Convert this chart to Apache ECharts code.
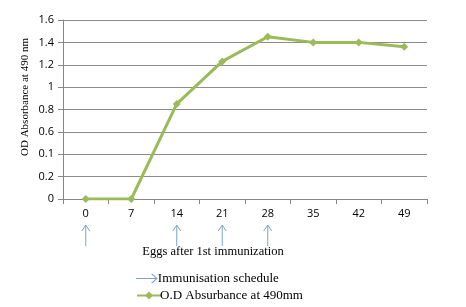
<!DOCTYPE html>
<html>
<head>
<meta charset="utf-8">
<script src="https://cdn.jsdelivr.net/npm/echarts@6/dist/echarts.min.js"></script>
<style>
  html, body { margin: 0; padding: 0; background: #fff; }
  #chart { width: 466px; height: 307px; }
</style>
</head>
<body>
<div id="chart"></div>
<script>
const days = ['0', '7', '14', '21', '28', '35', '42', '49'];
const odValues = [0, 0, 0.85, 1.23, 1.45, 1.40, 1.40, 1.36];
const yTickLabels = ['0', '0.2', '0.1', '0.6', '0.8', '1', '1.2', '1.4', '1.6'];
const arrowDays = ['0', '14', '21', '28'];

const chart = echarts.init(document.getElementById('chart'));
const serif = '"Liberation Serif", "DejaVu Serif", serif';
const arrowColor = '#7ea3cf';
const green = '#9bbb59';

// shared legend look, one legend block per row
const legendBase = {
  orient: 'horizontal',
  left: 131,
  itemWidth: 24,
  itemHeight: 10,
  textStyle: { fontFamily: serif, fontSize: 13, color: '#000', padding: [0, 0, 0, -6] }
};

const option = {
  animation: false,
  grid: { left: 63, right: 39, top: 20, bottom: 108 },
  legend: [
    Object.assign({}, legendBase, {
      top: 267,
      data: [{ name: 'Immunisation schedule', icon: 'path://M0,4.6 L18,4.6 L14,1 L14.8,0.4 L20,5 L14.8,9.6 L14,9 L18,5.4 L0,5.4 Z', itemStyle: { color: arrowColor } }]
    }),
    Object.assign({}, legendBase, {
      top: 284,
      data: [{ name: 'O.D Absurbance at 490mm' }]
    })
  ],
  xAxis: {
    type: 'category',
    data: days,
    boundaryGap: true,
    axisLine: { lineStyle: { color: '#868686' } },
    axisTick: { show: true, length: 5, lineStyle: { color: '#868686' } },
    axisLabel: { margin: 9, fontSize: 11, color: '#000', fontFamily: '"Open Sans", sans-serif' }
  },
  yAxis: {
    type: 'value',
    min: 0,
    max: 1.6,
    interval: 0.2,
    axisLine: { show: true, lineStyle: { color: '#868686' } },
    axisTick: { show: true, length: 5, lineStyle: { color: '#868686' } },
    splitLine: { lineStyle: { color: '#8c8c8c', width: 1 } },
    axisLabel: {
      margin: 9,
      fontSize: 11,
      color: '#000',
      fontFamily: '"Open Sans", sans-serif',
      formatter: (v) => yTickLabels[Math.round(v / 0.2)]
    }
  },
  graphic: [
    {
      type: 'text',
      x: 25,
      y: 97,
      rotation: Math.PI / 2,
      style: {
        text: 'OD Absorbance at 490 nm',
        font: '11px ' + serif,
        fill: '#000',
        align: 'center',
        verticalAlign: 'middle'
      }
    },
    {
      type: 'text',
      x: 213,
      y: 252,
      style: {
        text: 'Eggs after 1st immunization',
        font: '12.5px ' + serif,
        fill: '#000',
        align: 'center',
        verticalAlign: 'middle'
      }
    }
  ],
  series: [
    {
      name: 'Immunisation schedule',
      type: 'custom',
      clip: false,
      itemStyle: { color: arrowColor },
      data: arrowDays.map(d => [d, 0]),
      encode: { x: 0, y: 1 },
      renderItem: (params, api) => {
        const p = api.coord([api.value(0), 0]);
        const x = p[0];
        const top = p[1] + 26;
        const bottom = p[1] + 47;
        const style = { stroke: arrowColor, lineWidth: 1, fill: 'none' };
        return {
          type: 'group',
          children: [
            { type: 'line', shape: { x1: x, y1: top, x2: x, y2: bottom }, style },
            { type: 'polyline', shape: { points: [[x - 4, top + 6], [x, top], [x + 4, top + 6]] }, style }
          ]
        };
      }
    },
    {
      name: 'O.D Absurbance at 490mm',
      type: 'line',
      smooth: false,
      data: odValues,
      symbol: 'diamond',
      symbolSize: 8,
      lineStyle: { color: green, width: 3 },
      itemStyle: { color: green }
    }
  ]
};

chart.setOption(option);
</script>
</body>
</html>
